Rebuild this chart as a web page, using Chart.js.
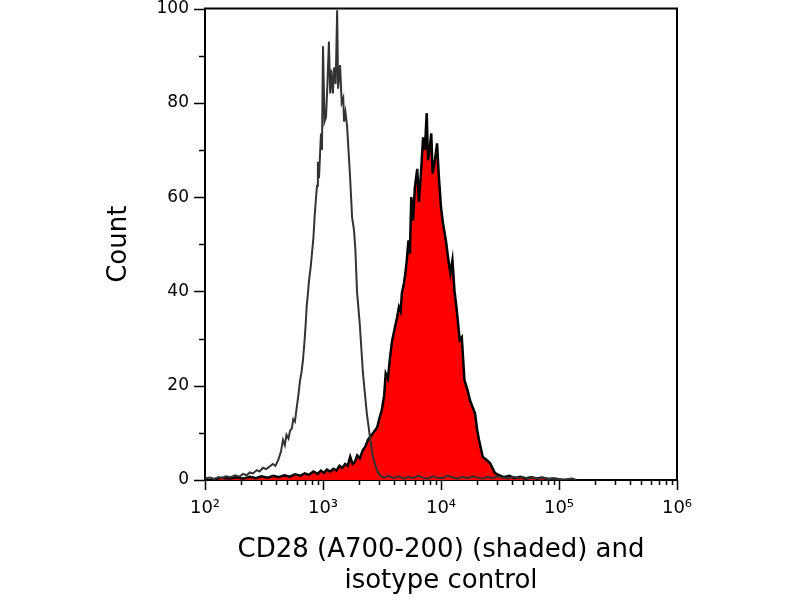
<!DOCTYPE html>
<html>
<head>
<meta charset="utf-8">
<script src="https://cdn.jsdelivr.net/npm/chart.js@4.4.1/dist/chart.umd.min.js"></script>
<style>
html, body { margin: 0; padding: 0; background: #fff; }
#wrap { width: 800px; height: 600px; }
</style>
</head>
<body>
<div id="wrap"><canvas id="chart"></canvas></div>
<script>
// isotype control (open line)
const isoX = [100,110,120,130,140,150,165,180,195,210,
  225,240,255,275,290,310,330,355,375,395,
  417,440,458,475,490,510,525,545,560,578,
  600,620,638,655,676,700,715,728,745,762,
  785,808,830,850,870,890,905,925,961,980,
  1000,1030,1061,1090,1122,1150,1172,1213,1239,1280,
  1318,1343,1395,1440,1485,1508,1550,1600,1640,1690,
  1730,1764,1831,1880,1942,2050,2180,2350,2500,2650,
  2800,2930,3100,3300,3600,4000,4400,4800,5300,5800,
  6400,7000,7700,8500,9300,10300,11300,12500,13800,15200,
  16700,18500,20400,22500,25000,27500,30000,33000,37000,41000,
  45000,50000,55000,61000,68000,75000,83000,92000,100000,110000,
  130000,140000];
const isoY = [0.3,0.5,0.2,0.6,0.4,0.8,0.6,1.0,0.7,1.3,
  1.0,1.6,1.4,2.1,1.8,2.6,2.3,2.9,3.4,3.0,
  4.2,6.0,8.5,7.4,9.6,8.8,10.4,11.0,12.9,12.4,
  15.5,18.2,21.0,22.6,25.3,30.0,33.5,37.0,39.5,42.4,
  45.0,48.3,51.5,56.0,59.5,62.4,67.5,64.0,73.5,70.0,
  92.0,76.0,77.0,84.0,93.0,82.0,87.0,82.0,87.5,84.0,
  99.6,83.0,88.0,80.0,81.0,76.0,78.0,75.0,70.5,65.0,
  60.0,55.7,53.0,49.0,40.0,33.0,22.7,14.2,9.1,4.9,
  2.8,1.5,0.8,0.5,0.9,0.4,0.8,0.3,0.7,0.4,
  0.9,0.5,0.3,0.8,0.5,0.4,0.9,0.6,0.3,0.7,
  0.4,0.8,0.5,0.3,0.7,0.4,0.8,0.5,0.3,0.7,
  0.4,0.6,0.3,0.5,0.3,0.4,0.2,0.3,0.2,0.1,
  0.3,0];

// CD28 (A700-200), shaded
const cd28X = [120,140,160,185,210,240,270,300,340,380,
  420,470,520,580,640,700,760,830,900,960,
  1020,1080,1150,1230,1300,1380,1460,1540,1620,1700,
  1780,1860,1950,2050,2180,2280,2400,2550,2700,2880,
  3000,3150,3300,3400,3550,3700,3850,4070,4250,4400,
  4550,4660,4850,5000,5130,5300,5450,5600,5800,6000,
  6290,6500,6800,7050,7300,7570,7750,8000,8270,8500,
  8900,9260,9600,10000,10400,11000,11500,12000,12500,13000,
  13600,14400,15000,15800,16800,17600,18500,19400,20300,21000,
  22600,24500,26000,28600,31000,34000,38000,42000,47000,52000,
  58000,65000,72000,80000,90000,100000];
const cd28Y = [0.2,0.5,0.3,0.6,0.3,0.7,0.4,0.8,0.5,0.9,
  0.6,1.0,0.7,1.2,0.9,1.4,1.1,1.8,1.3,2.0,
  1.5,2.2,1.8,2.4,2.0,3.0,2.6,3.4,3.0,4.9,
  3.4,3.8,5.2,4.6,6.4,7.0,8.5,9.4,10.2,11.2,
  13.0,14.8,18.0,22.6,21.5,26.0,29.5,32.4,34.5,36.7,
  35.8,39.6,41.7,44.0,46.6,50.8,48.0,60.0,55.0,62.0,
  66.0,59.0,66.0,72.7,70.0,77.8,67.8,70.0,73.5,65.0,
  68.0,71.4,64.2,57.8,54.4,50.8,47.0,43.8,46.6,40.2,
  36.0,29.7,30.3,21.2,19.0,16.9,15.5,14.2,10.5,8.5,
  4.9,4.2,3.6,1.5,1.0,0.6,0.9,0.4,0.7,0.3,
  0.6,0.3,0.5,0.2,0.3,0.1];

const xTickVals = [1e2, 1e3, 1e4, 1e5, 1e6];
const xTickLabels = ["10²", "10³", "10⁴", "10⁵", "10⁶"];
const yTickVals = [0, 20, 40, 60, 80, 100];
const xTitle = ["CD28 (A700-200) (shaded) and", "isotype control"];
const yTitle = "Count";

const FONT = "'DejaVu Sans', Verdana, sans-serif";
const pts = (xs, ys) => xs.map((x, i) => ({ x, y: ys[i] }));
// invisible tick marks keep the labels away from the axis; real marks come from axisMarks
const hiddenGrid = len => ({
  display: true, drawOnChartArea: false, drawTicks: true,
  tickLength: len, tickColor: "rgba(0,0,0,0)"
});

// frame on top/right plus long and short tick marks
const axisMarks = {
  id: "axisMarks",
  afterDraw(chart) {
    const { ctx, chartArea: a, scales: { x, y } } = chart;
    ctx.save();
    ctx.strokeStyle = "#000";
    ctx.lineWidth = 2;
    ctx.beginPath();
    ctx.moveTo(a.left - 1, a.top);
    ctx.lineTo(a.right, a.top);
    ctx.lineTo(a.right, a.bottom + 1);
    ctx.stroke();

    ctx.lineWidth = 1.5;
    ctx.beginPath();
    for (let v = 0; v <= 100; v += 10) {
      const py = Math.round(y.getPixelForValue(v)) + 0.5;
      const len = v % 20 === 0 ? 11 : 6;
      ctx.moveTo(a.left - len, py);
      ctx.lineTo(a.left, py);
    }
    for (let e = 2; e <= 6; e++) {
      for (let m = 1; m <= (e === 6 ? 1 : 9); m++) {
        const px = Math.round(x.getPixelForValue(m * Math.pow(10, e))) + 0.5;
        const len = m === 1 ? 10 : 5;
        ctx.moveTo(px, a.bottom);
        ctx.lineTo(px, a.bottom + len);
      }
    }
    ctx.stroke();
    ctx.restore();
  }
};

new Chart(document.getElementById("chart"), {
  type: "line",
  data: {
    datasets: [
      {
        label: "isotype control",
        data: pts(isoX, isoY),
        borderColor: "#333",
        borderWidth: 2,
        fill: false,
        pointRadius: 0,
        tension: 0
      },
      {
        label: "CD28 (A700-200)",
        data: pts(cd28X, cd28Y),
        borderColor: "#000",
        backgroundColor: "#ff0000",
        borderWidth: 2.5,
        fill: "origin",
        pointRadius: 0,
        tension: 0
      }
    ]
  },
  options: {
    responsive: true,
    maintainAspectRatio: false,
    animation: false,
    devicePixelRatio: 1,
    layout: { padding: { top: 8, right: 123, left: 0, bottom: 0 } },
    plugins: { legend: { display: false }, tooltip: { enabled: false } },
    scales: {
      x: {
        type: "logarithmic",
        min: 100,
        max: 1e6,
        afterFit: s => { s.height = 120; },
        afterBuildTicks: s => { s.ticks = xTickVals.map(v => ({ value: v })); },
        grid: hiddenGrid(18),
        border: { display: true, color: "#000", width: 2 },
        ticks: {
          autoSkip: false,
          maxRotation: 0,
          padding: 0,
          color: "#000",
          font: { family: FONT, size: 18 },
          callback: (v) => xTickLabels[xTickVals.indexOf(v)] ?? ""
        },
        title: {
          display: true,
          text: xTitle,
          color: "#000",
          font: { family: FONT, size: 26, lineHeight: 1.19 },
          padding: { top: 0, bottom: 3 }
        }
      },
      y: {
        min: 0,
        max: 100,
        afterFit: s => { s.width = 205; },
        afterBuildTicks: s => { s.ticks = yTickVals.map(v => ({ value: v })); },
        grid: hiddenGrid(16),
        border: { display: true, color: "#000", width: 2 },
        ticks: {
          padding: 0,
          color: "#000",
          font: { family: FONT, size: 17, lineHeight: 1 }
        },
        title: {
          display: true,
          text: yTitle,
          color: "#000",
          font: { family: FONT, size: 26, lineHeight: 1.2 },
          padding: { top: 104, bottom: 0 }
        }
      }
    }
  },
  plugins: [axisMarks]
});
</script>
</body>
</html>
